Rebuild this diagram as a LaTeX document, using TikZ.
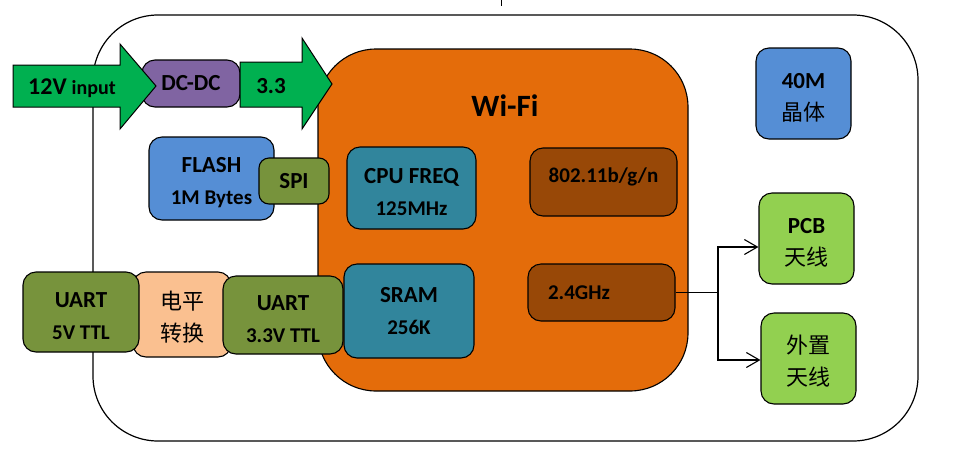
\documentclass[tikz,border=0pt]{standalone}
\usepackage{fontspec}
\setmainfont{Carlito}
\newfontfamily\cjk{Noto Sans CJK SC}
\usetikzlibrary{arrows.meta}
\definecolor{orangeW}{HTML}{E46C0A}
\definecolor{tealC}{HTML}{31859C}
\definecolor{brownC}{HTML}{984807}
\definecolor{purpleC}{HTML}{8064A2}
\definecolor{greenA}{HTML}{00B050}
\definecolor{blueC}{HTML}{558ED5}
\definecolor{oliveC}{HTML}{77933C}
\definecolor{peachC}{HTML}{FAC090}
\definecolor{lgreenC}{HTML}{92D050}
\newcommand{\topstrut}{\rule{0pt}{24pt}}
\begin{document}
\begin{tikzpicture}[x=1pt,y=-1pt,
  blk/.style={draw=black, line width=1.1pt, rounded corners=13pt, inner sep=0pt,
    align=center, font=\bfseries\fontsize{23}{32}\selectfont},
  bigarrow/.style={draw=black, line width=1pt, fill=greenA},
  conn/.style={draw=black, line width=1.1pt},
  tip/.style={-{Straight Barb[length=13pt,width=15pt,line width=1.1pt]}}
]
\useasboundingbox (0,0) rectangle (963,456);
% outer board
\node[draw=black, line width=1.2pt, rounded corners=65pt, minimum width=825pt,
  minimum height=426pt, inner sep=0pt] (board) at (505.5,228) {};
\coordinate (tickA) at (501,0);
\coordinate (tickB) at (501,6);
\draw[line width=1pt] (tickA) -- (tickB);
% wifi chip
\node[draw=black, line width=1.1pt, fill=orangeW, rounded corners=58pt,
  minimum width=370pt, minimum height=342pt, inner sep=0pt] (wifi) at (503,220) {};
\node[font=\bfseries\fontsize{31}{36}\selectfont, inner sep=0pt] (wifititle) at (505,106) {Wi-Fi};
\node[blk, fill=tealC, minimum width=129pt, minimum height=82pt] (cpu) at (411.5,188)
  {\topstrut CPU FREQ\\{\fontsize{21}{32}\selectfont 125MHz}};
\node[blk, fill=tealC, minimum width=130pt, minimum height=94pt] (sram) at (409,311)
  {\rule{0pt}{16pt}SRAM\\{\fontsize{21}{32}\selectfont 256K}};
\node[blk, fill=brownC, minimum width=147pt, minimum height=68pt,
  font=\bfseries\fontsize{21}{31}\selectfont, text depth=13pt] (wlan) at (603.5,182) {802.11b/g/n};
\node[blk, fill=brownC, text width=107pt, inner xsep=20pt, align=left,
  minimum height=57pt, font=\bfseries\fontsize{21}{31}\selectfont] (ghz) at (601.5,292.5) {2.4GHz};
% power
\node[blk, fill=purpleC, minimum width=98pt, minimum height=47pt] (dcdc) at (191,83.5) {DC-DC};
\draw[bigarrow] (13,65) -- (120,65) -- (120,44) -- (156,86) -- (120,129) -- (120,107) -- (13,107) -- cycle;
\node[inner sep=0pt, font=\bfseries] (in12) at (72,88)
  {{\fontsize{24}{28}\selectfont 12V}\hspace{5pt}{\fontsize{20}{28}\selectfont input}};
\draw[bigarrow] (240,62) -- (302,62) -- (302,38) -- (332,84) -- (302,129) -- (302,107) -- (240,107) -- cycle;
\node[inner sep=0pt, font=\bfseries\fontsize{23}{28}\selectfont] (v33) at (271,86) {3.3};
% flash
\node[blk, fill=blueC, minimum width=125pt, minimum height=83pt] (flash) at (211.5,178.5)
  {\topstrut FLASH\\{\fontsize{21}{32}\selectfont 1M Bytes}};
\node[blk, fill=oliveC, minimum width=70pt, minimum height=46pt, rounded corners=10pt] (spi) at (294,181) {SPI};
% uart
\node[blk, fill=peachC, minimum width=98pt, minimum height=85pt,
  font=\cjk\fontsize{22}{32}\selectfont] (lvl) at (182,314.5) {\topstrut 电平\\转换};
\node[blk, fill=oliveC, minimum width=116pt, minimum height=80pt] (uart5) at (81,312)
  {\topstrut UART\\{\fontsize{21}{32}\selectfont 5V TTL}};
\node[blk, fill=oliveC, minimum width=120pt, minimum height=78pt] (uart33) at (283,315)
  {\topstrut UART\\{\fontsize{21}{32}\selectfont 3.3V TTL}};
% right side
\node[blk, fill=blueC, minimum width=95pt, minimum height=91pt] (xtal) at (803.5,93.5)
  {\topstrut 40M\\{\cjk\mdseries\fontsize{22}{32}\selectfont 晶体}};
\node[blk, fill=lgreenC, minimum width=95pt, minimum height=91pt] (pcb) at (806.5,238.5)
  {\topstrut PCB\\{\cjk\mdseries\fontsize{22}{32}\selectfont 天线}};
\node[blk, fill=lgreenC, minimum width=95pt, minimum height=91pt] (ext) at (808.5,358.5)
  {{\cjk\mdseries\fontsize{22}{32}\selectfont \topstrut 外置}\\{\cjk\mdseries\fontsize{22}{32}\selectfont 天线}};
% connectors
\coordinate (fork) at (718,292.5);
\draw[conn] (ghz.east) -- (fork);
\draw[conn, tip] (fork) |- ([yshift=-8.5pt]pcb.west);
\draw[conn, tip] (fork) |- ([yshift=-1.5pt]ext.west);
\end{tikzpicture}
\end{document}
